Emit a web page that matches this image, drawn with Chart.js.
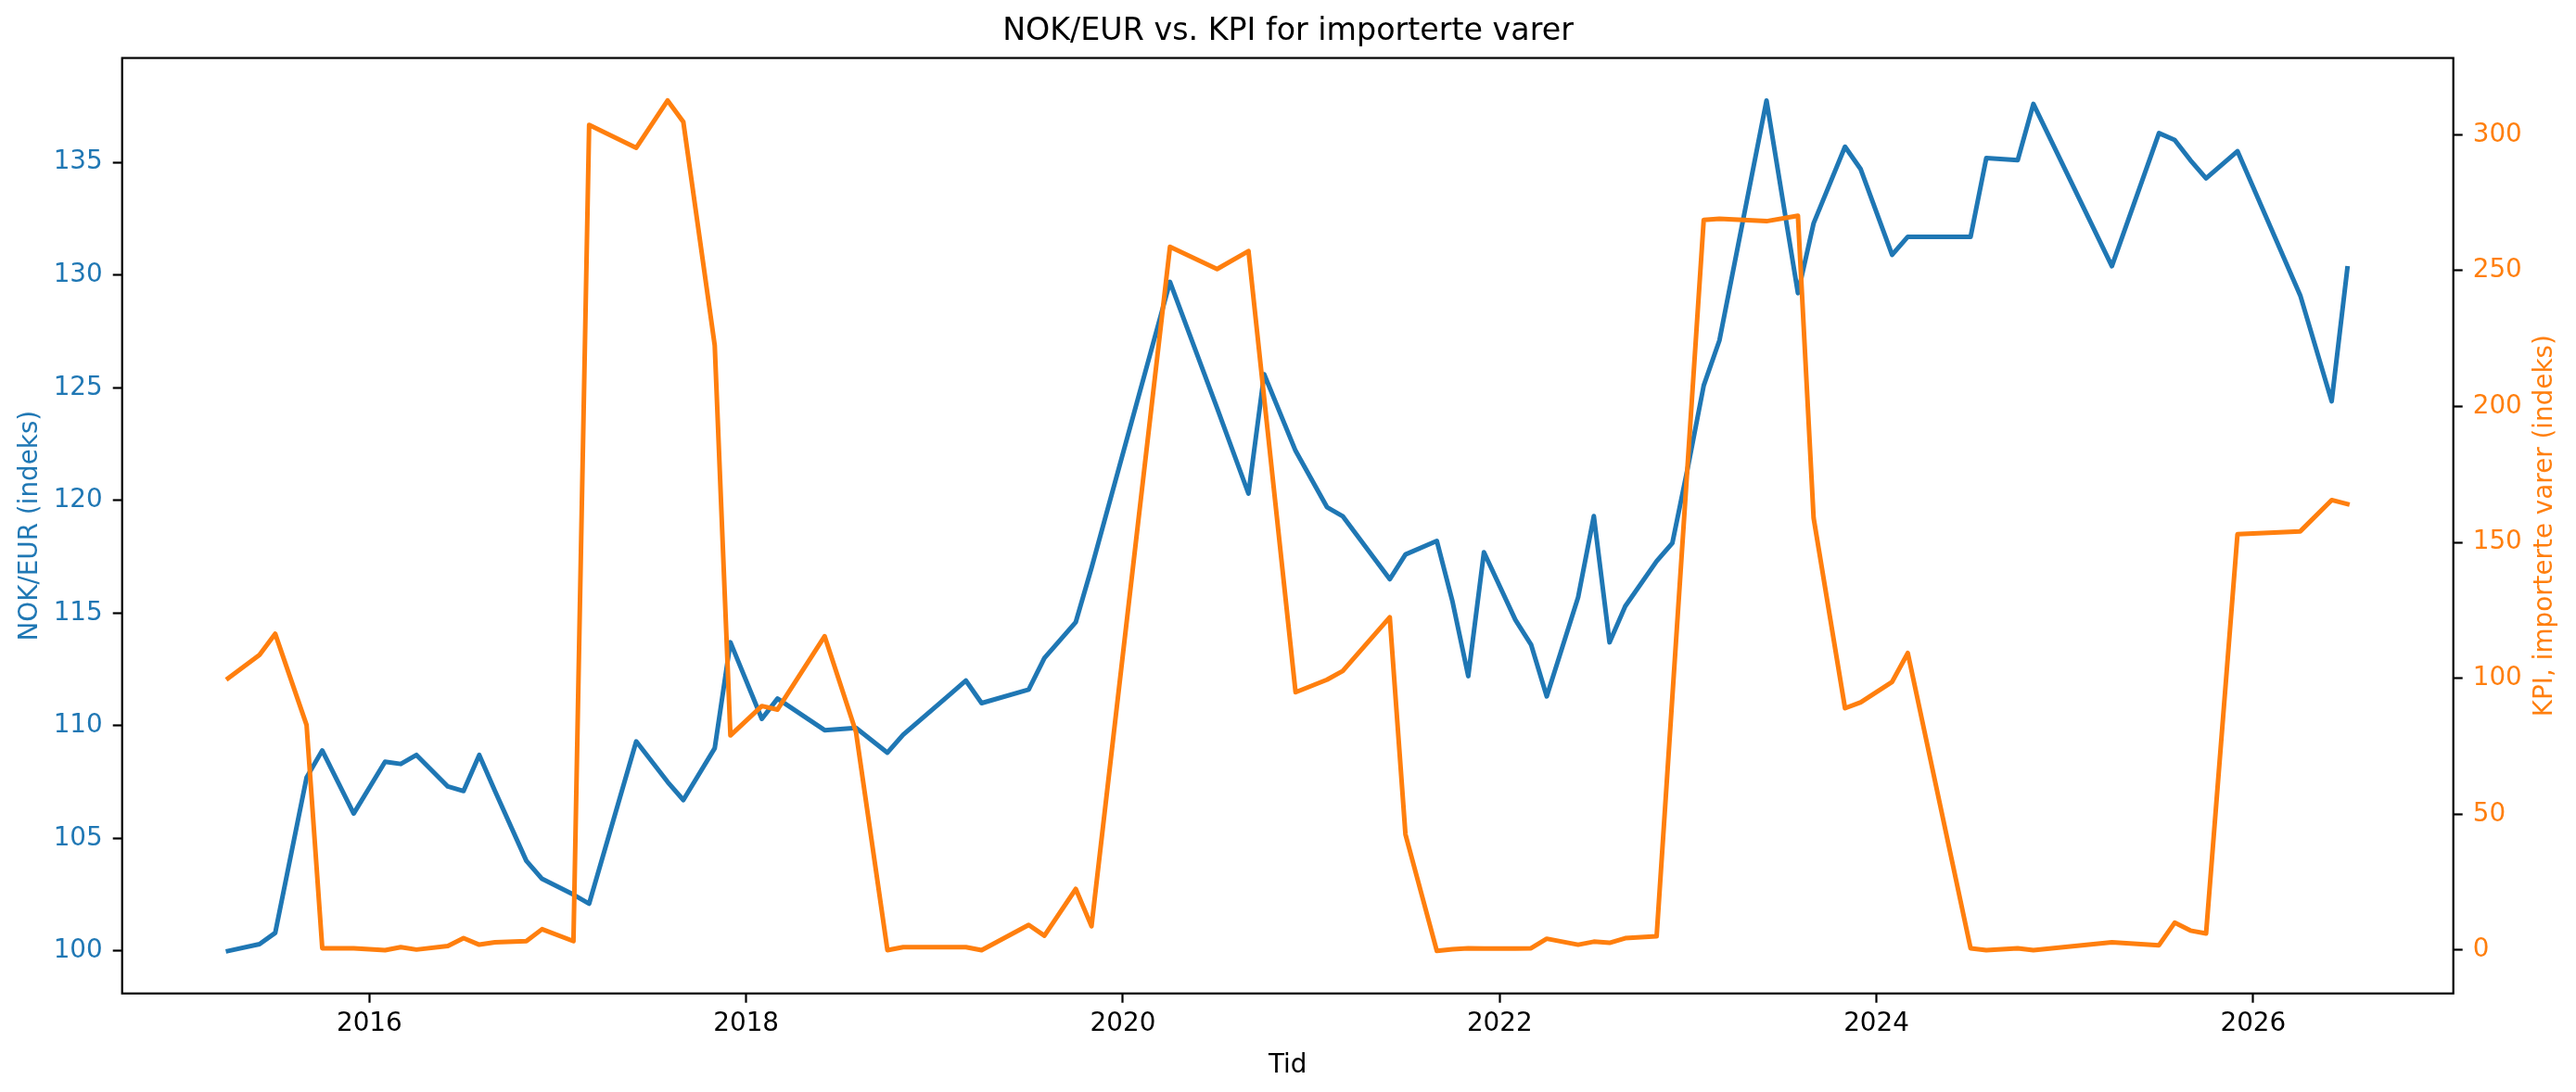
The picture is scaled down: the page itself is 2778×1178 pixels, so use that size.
<!DOCTYPE html>
<html lang="no">
<head>
    <meta charset="UTF-8">
    <title>NOK/EUR vs. KPI for importerte varer</title>
    <script src="https://cdn.jsdelivr.net/npm/chart.js"></script>
    <style>
        html, body { margin: 0; padding: 0; background: #fff; }
        canvas { display: block; }
    </style>
</head>
<body>
    <canvas id="chart" width="2778" height="1178" style="width:2778px;height:1178px"></canvas>

    <script>
        // Måneder (månedsslutt) med observasjoner
        const months = [
            '2015-03', '2015-05', '2015-06', '2015-08', '2015-09', '2015-11',
            '2016-01', '2016-02', '2016-03', '2016-05', '2016-06', '2016-07', '2016-08', '2016-10', '2016-11',
            '2017-01', '2017-02', '2017-05', '2017-07', '2017-08', '2017-10', '2017-11',
            '2018-01', '2018-02', '2018-05', '2018-07', '2018-09', '2018-10',
            '2019-01', '2019-02', '2019-03', '2019-06', '2019-07', '2019-09', '2019-10',
            '2020-03', '2020-06', '2020-08', '2020-09', '2020-11',
            '2021-01', '2021-02', '2021-05', '2021-06', '2021-08', '2021-09', '2021-10', '2021-11',
            '2022-01', '2022-02', '2022-03', '2022-05', '2022-06', '2022-07', '2022-08', '2022-10', '2022-11', '2022-12',
            '2023-01', '2023-02', '2023-05', '2023-07', '2023-08', '2023-10', '2023-11',
            '2024-01', '2024-02', '2024-06', '2024-07', '2024-09', '2024-10',
            '2025-03', '2025-06', '2025-07', '2025-08', '2025-09', '2025-11',
            '2026-03', '2026-05', '2026-06'
        ];

        // NOK/EUR (indeks)
        const nokEur = [
            100.0, 100.3, 100.8, 107.7, 108.9, 106.1,
            108.4, 108.3, 108.7, 107.3, 107.1, 108.7, 107.1, 104.0, 103.2,
            102.5, 102.1, 109.3, 107.5, 106.7, 109.0, 113.7,
            110.3, 111.2, 109.8, 109.9, 108.8, 109.6,
            111.4, 112.0, 111.0, 111.6, 113.0, 114.6, 117.0,
            129.7, 124.1, 120.3, 125.6, 122.2,
            119.7, 119.3, 116.5, 117.6, 118.2, 115.5, 112.2, 117.7,
            114.7, 113.6, 111.3, 115.7, 119.3, 113.7, 115.3, 117.3, 118.1, 121.5,
            125.1, 127.1, 137.75, 129.2, 132.3, 135.7, 134.7,
            130.9, 131.7, 131.7, 135.2, 135.1, 137.6,
            130.4, 136.3, 136.0, 135.1, 134.3, 135.5,
            129.1, 124.4, 130.3
        ];

        // KPI, importerte varer (indeks)
        const kpiImport = [
            100.0, 108.6, 116.4, 82.8, 0.7, 0.7,
            0.0, 1.1, 0.2, 1.5, 4.4, 2.0, 2.9, 3.3, 7.7,
            3.3, 303.6, 295.2, 312.6, 304.7, 222.5, 79.0,
            89.8, 88.5, 115.5, 80.2, 0.0, 1.1,
            1.1, 1.1, 0.0, 9.3, 5.3, 22.5, 8.8,
            258.8, 250.6, 257.2, 203.1, 94.9,
            99.5, 102.7, 122.5, 42.6, -0.3, 0.3, 0.7, 0.6,
            0.6, 0.7, 4.2, 2.0, 3.1, 2.7, 4.4, 5.1, 93.0, 180.9,
            268.7, 269.1, 268.2, 270.2, 159.0, 89.0, 91.2,
            98.7, 109.3, 0.7, 0.0, 0.7, 0.0,
            2.9, 1.8, 10.1, 7.2, 6.1, 153.0,
            154.1, 165.6, 164.1
        ];

        const xTicks = [2016, 2018, 2020, 2022, 2024, 2026];
        const leftTicks = [100, 105, 110, 115, 120, 125, 130, 135];
        const rightTicks = [0, 50, 100, 150, 200, 250, 300];

        const BLUE = '#1f77b4';
        const ORANGE = '#ff7f0e';
        const FONT = 'DejaVu Sans';
        const LINE_W = 5;

        function toYear(m) {
            const [y, mo] = m.split('-').map(Number);
            return y + mo / 12;
        }

        // matplotlib-style 5% margins
        function padded(values) {
            const lo = Math.min(...values), hi = Math.max(...values);
            const pad = (hi - lo) * 0.05;
            return { min: lo - pad, max: hi + pad };
        }

        const years = months.map(toYear);
        const xr = padded(years);
        const yl = padded(nokEur);
        const yr = padded(kpiImport);

        // frame round the plot + right axis label read bottom-to-top
        const framePlugin = {
            id: 'frame',
            afterDraw(chart) {
                const { ctx, chartArea: a } = chart;
                ctx.save();
                ctx.strokeStyle = '#000';
                ctx.lineWidth = 2.2;
                ctx.strokeRect(a.left, a.top, a.right - a.left, a.bottom - a.top);

                ctx.translate(2745, (a.top + a.bottom) / 2);
                ctx.rotate(-Math.PI / 2);
                ctx.fillStyle = ORANGE;
                ctx.font = '27.8px "' + FONT + '"';
                ctx.textAlign = 'center';
                ctx.textBaseline = 'middle';
                ctx.fillText('KPI, importerte varer (indeks)', 0, 0);
                ctx.restore();
            }
        };

        const tickGrid = {
            drawOnChartArea: false,
            drawTicks: true,
            tickLength: 10,
            tickWidth: 2.2,
            tickColor: '#000'
        };

        new Chart(document.getElementById('chart'), {
            type: 'line',
            data: {
                datasets: [
                    {
                        label: 'KPI, importerte varer',
                        data: years.map((x, i) => ({ x, y: kpiImport[i] })),
                        yAxisID: 'y1',
                        borderColor: ORANGE,
                        borderWidth: LINE_W,
                        borderJoinStyle: 'round',
                        borderCapStyle: 'square',
                        pointRadius: 0,
                        tension: 0,
                        fill: false,
                        order: 0
                    },
                    {
                        label: 'NOK/EUR',
                        data: years.map((x, i) => ({ x, y: nokEur[i] })),
                        yAxisID: 'y',
                        borderColor: BLUE,
                        borderWidth: LINE_W,
                        borderJoinStyle: 'round',
                        borderCapStyle: 'square',
                        pointRadius: 0,
                        tension: 0,
                        fill: false,
                        order: 1
                    }
                ]
            },
            options: {
                responsive: false,
                animation: false,
                devicePixelRatio: 1,
                layout: { padding: 0 },
                plugins: {
                    legend: { display: false },
                    tooltip: { enabled: false },
                    title: {
                        display: true,
                        text: 'NOK/EUR vs. KPI for importerte varer',
                        color: '#000',
                        font: { family: FONT, size: 33.3, weight: 'normal' },
                        padding: { top: 14, bottom: 8.6 }
                    }
                },
                scales: {
                    x: {
                        type: 'linear',
                        position: 'bottom',
                        min: xr.min,
                        max: xr.max,
                        afterBuildTicks: s => { s.ticks = xTicks.map(v => ({ value: v })); },
                        afterFit: s => { s.height = 106.3; },
                        grid: tickGrid,
                        border: { display: false },
                        ticks: {
                            color: '#000',
                            padding: 6,
                            maxRotation: 0,
                            font: { family: FONT, size: 27.8 },
                            callback: v => String(v)
                        },
                        title: {
                            display: true,
                            text: 'Tid',
                            color: '#000',
                            font: { family: FONT, size: 27.8 },
                            padding: { top: 0, bottom: 12 }
                        }
                    },
                    y: {
                        type: 'linear',
                        position: 'left',
                        min: yl.min,
                        max: yl.max,
                        afterBuildTicks: s => { s.ticks = leftTicks.map(v => ({ value: v })); },
                        afterFit: s => { s.width = 131.7; },
                        grid: tickGrid,
                        border: { display: false },
                        ticks: {
                            color: BLUE,
                            padding: 11,
                            font: { family: FONT, size: 27.8 },
                            callback: v => String(v)
                        },
                        title: {
                            display: true,
                            text: 'NOK/EUR (indeks)',
                            color: BLUE,
                            font: { family: FONT, size: 27.8 },
                            padding: { top: 16, bottom: 0 }
                        }
                    },
                    y1: {
                        type: 'linear',
                        position: 'right',
                        min: yr.min,
                        max: yr.max,
                        afterBuildTicks: s => { s.ticks = rightTicks.map(v => ({ value: v })); },
                        afterFit: s => { s.width = 132.3; },
                        grid: tickGrid,
                        border: { display: false },
                        ticks: {
                            color: ORANGE,
                            padding: 11,
                            font: { family: FONT, size: 27.8 },
                            callback: v => String(v)
                        },
                        title: { display: false }
                    }
                }
            },
            plugins: [framePlugin]
        });
    </script>
</body>
</html>
